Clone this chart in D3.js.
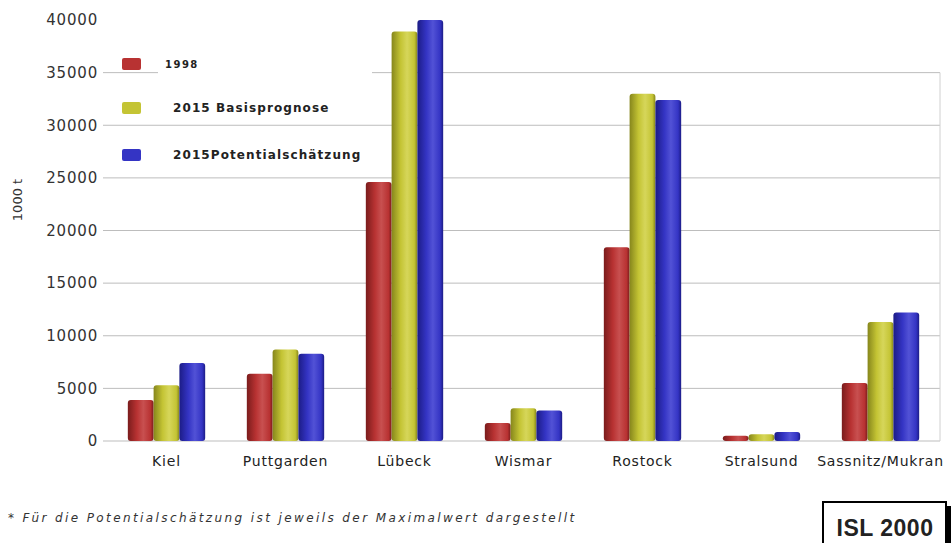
<!DOCTYPE html>
<html>
<head>
<meta charset="utf-8">
<script src="https://cdn.jsdelivr.net/npm/d3@7"></script>
<style>
  body { margin: 0; background: #fff; }
  svg { display: block; font-family: "DejaVu Sans", sans-serif; }
</style>
</head>
<body>
<div id="chart"></div>
<script>
// categories and series (values in 1000 t)
var ports = ["Kiel", "Puttgarden", "Lübeck", "Wismar", "Rostock", "Stralsund", "Sassnitz/Mukran"];
var seriesNames = ["1998", "2015 Basisprognose", "2015Potentialschätzung"];
var v1998 = [3900, 6400, 24600, 1700, 18400, 500, 5500];
var vBasis = [5300, 8700, 38900, 3100, 33000, 650, 11300];
var vPotential = [7400, 8300, 40000, 2900, 32400, 850, 12200];
var yTicks = [0, 5000, 10000, 15000, 20000, 25000, 30000, 35000, 40000];

var seriesVals = [v1998, vBasis, vPotential];
var colors = [
  {dark: "#7a1c1c", mid: "#b83232", light: "#c85050"},
  {dark: "#86861c", mid: "#c4c434", light: "#d6d65a"},
  {dark: "#1c1c86", mid: "#3434c4", light: "#5252d6"}
];

var W = 952, H = 543;
var margin = {top: 20, right: 12, bottom: 102, left: 107};
var plotW = W - margin.left - margin.right,
    plotH = H - margin.top - margin.bottom;

var svg = d3.select("#chart").append("svg")
  .attr("width", W).attr("height", H);

// gradients for the cylinder look
var defs = svg.append("defs");
colors.forEach(function (c, i) {
  var g = defs.append("linearGradient").attr("id", "grad" + i)
    .attr("x1", "0%").attr("x2", "100%").attr("y1", "0%").attr("y2", "0%");
  g.append("stop").attr("offset", "0%").attr("stop-color", c.dark);
  g.append("stop").attr("offset", "35%").attr("stop-color", c.mid);
  g.append("stop").attr("offset", "60%").attr("stop-color", c.light);
  g.append("stop").attr("offset", "88%").attr("stop-color", c.mid);
  g.append("stop").attr("offset", "100%").attr("stop-color", c.dark);
});

var x0 = d3.scaleBand().domain(ports).range([0, plotW]).paddingInner(0.35).paddingOuter(0.175);
var x1 = d3.scaleBand().domain(d3.range(seriesNames.length)).range([0, x0.bandwidth()]);
var y = d3.scaleLinear().domain([0, 40000]).range([plotH, 0]);

var g = svg.append("g").attr("transform", "translate(" + margin.left + "," + margin.top + ")");

// gridlines
g.append("g").selectAll("line").data(yTicks.slice(0, -1)).enter().append("line")
  .attr("x1", -4).attr("x2", plotW)
  .attr("y1", function (d) { return y(d); }).attr("y2", function (d) { return y(d); })
  .attr("stroke", "#bdbdbd").attr("stroke-width", 1);

// right border
g.append("line").attr("x1", plotW).attr("x2", plotW).attr("y1", y(35000)).attr("y2", plotH)
  .attr("stroke", "#d0d0d0");

// y axis labels
var yAxis = d3.axisLeft(y).tickValues(yTicks).tickFormat(d3.format("d")).tickSize(0).tickPadding(9);
var yAxisEl = g.append("g").call(yAxis);
yAxisEl.select(".domain").remove();
yAxisEl.selectAll("text").attr("font-size", 15).attr("fill", "#333")
  .attr("letter-spacing", 0.8)
  .attr("font-family", "DejaVu Sans, sans-serif");

// y title
svg.append("text").attr("transform", "translate(22,200) rotate(-90)")
  .attr("text-anchor", "middle").attr("font-size", 13).attr("fill", "#333")
  .text("1000 t");

// bars
var groups = g.selectAll(".grp").data(ports).enter().append("g")
  .attr("transform", function (d) { return "translate(" + x0(d) + ",0)"; });

groups.selectAll("rect").data(function (d, i) {
  return seriesVals.map(function (s, k) { return {k: k, v: s[i]}; });
}).enter().append("rect")
  .attr("x", function (d) { return x1(d.k); })
  .attr("y", function (d) { return y(d.v); })
  .attr("width", x1.bandwidth())
  .attr("height", function (d) { return plotH - y(d.v); })
  .attr("rx", 3)
  .attr("fill", function (d) { return "url(#grad" + d.k + ")"; });

// x axis labels
var xAxis = d3.axisBottom(x0).tickSize(0).tickPadding(15);
var xAxisEl = g.append("g").attr("transform", "translate(0," + plotH + ")").call(xAxis);
xAxisEl.select(".domain").remove();
xAxisEl.selectAll("text").attr("font-size", 14).attr("fill", "#222")
  .attr("letter-spacing", 0.8)
  .attr("font-family", "DejaVu Sans, sans-serif");

// legend
var legY = [64, 108, 155], legTx = [165, 173, 173];
svg.append("rect").attr("x", 158).attr("y", 62).attr("width", 214).attr("height", 14).attr("fill", "#fff");
var leg = svg.append("g").selectAll("g").data(seriesNames).enter().append("g");
leg.append("rect")
  .attr("x", 122).attr("y", function (d, i) { return legY[i] - 6; })
  .attr("width", 19).attr("height", 12).attr("rx", 2)
  .attr("fill", function (d, i) { return colors[i].mid; });
leg.append("text")
  .attr("x", function (d, i) { return legTx[i]; })
  .attr("y", function (d, i) { return legY[i] + 4; })
  .attr("font-size", function (d, i) { return i === 0 ? 10 : 12; })
  .attr("letter-spacing", function (d, i) { return i === 0 ? 1.5 : 1.1; })
  .attr("font-weight", "bold").attr("fill", "#222")
  .text(function (d) { return d; });

// footnote
svg.append("text").attr("x", 8).attr("y", 522)
  .attr("font-size", 12).attr("font-style", "italic").attr("fill", "#333")
  .attr("letter-spacing", 2.4)
  .text("* Für die Potentialschätzung ist  jeweils der Maximalwert dargestellt");

// ISL box
svg.append("rect").attr("x", 827).attr("y", 506).attr("width", 124).attr("height", 42).attr("fill", "#000");
svg.append("rect").attr("x", 823).attr("y", 502).attr("width", 123).attr("height", 45)
  .attr("fill", "#fff").attr("stroke", "#000").attr("stroke-width", 2);
svg.append("text").attr("x", 885).attr("y", 536).attr("text-anchor", "middle")
  .attr("font-size", 23).attr("font-weight", "bold").attr("fill", "#222")
  .attr("font-family", "Liberation Sans, Arial, sans-serif")
  .attr("letter-spacing", 0.5).text("ISL 2000");
</script>
</body>
</html>
